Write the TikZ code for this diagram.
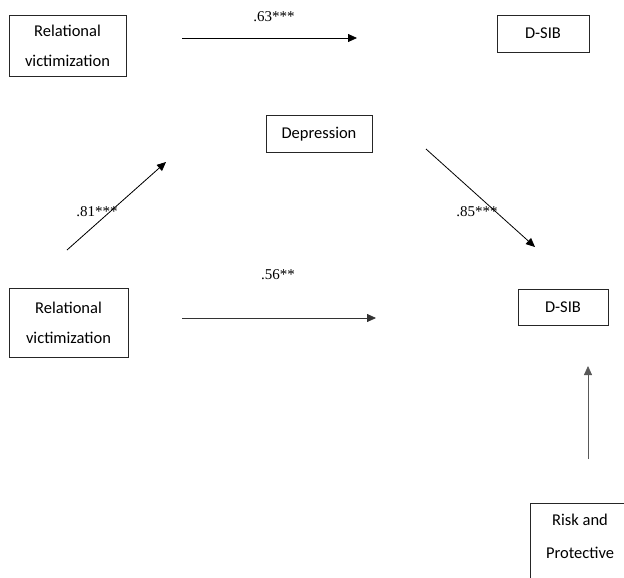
\documentclass[tikz,border=0pt]{standalone}
\usepackage{fontspec}
\setmainfont{Carlito}
\newfontfamily\labfont{Liberation Serif}
\usetikzlibrary{arrows.meta}
\begin{document}
\begin{tikzpicture}[x=1pt,y=-1pt,
  boxnode/.style={draw=black!85,line width=0.9pt,inner sep=0pt,align=center,
    font=\fontsize{16.5}{30}\selectfont},
  pathlabel/.style={inner sep=0pt,font=\labfont\fontsize{15}{15}\selectfont},
  patharrow/.style={line width=0.8pt,-{Triangle[length=9pt,width=8pt]}}]
\useasboundingbox (0,0) rectangle (624,578);
\clip (0,0) rectangle (624,578);
% nodes
\node[boxnode,minimum width=117pt,minimum height=61pt] (rv1) at (67.5,45.5) {Relational\\victimization};
\node[boxnode,minimum width=92pt,minimum height=37pt] (dsib1) at (543,33.5) {D-SIB};
\node[boxnode,minimum width=106pt,minimum height=37pt] (dep) at (319,134) {Depression};
\node[boxnode,minimum width=119pt,minimum height=69pt] (rv2) at (68.5,322.5) {Relational\\victimization};
\node[boxnode,minimum width=90pt,minimum height=36pt] (dsib2) at (563,307) {D-SIB};
\node[draw=black!85,line width=0.9pt,minimum width=98pt,minimum height=80pt,inner sep=0pt] (rp) at (579,543) {};
\node[inner sep=0pt,font=\fontsize{16.5}{30}\selectfont] (rptop) at (580,520) {Risk and};
\node[inner sep=0pt,font=\fontsize{16.5}{30}\selectfont] (rpbot) at (580,553) {Protective};
% arrow end points
\coordinate (a1s) at (182,38);
\coordinate (a1e) at (357,38);
\coordinate (a2s) at (67,250);
\coordinate (a2e) at (166,162);
\coordinate (a3s) at (426,149);
\coordinate (a3e) at (535,247);
\coordinate (a4s) at (182,318);
\coordinate (a4e) at (376,318);
\coordinate (a5s) at (588,459);
\coordinate (a5e) at (588,366);
% arrows
\draw[patharrow] (a1s) -- (a1e);
\draw[patharrow] (a2s) -- (a2e);
\draw[patharrow] (a3s) -- (a3e);
\draw[patharrow,draw=black!80,fill=black] (a4s) -- (a4e);
\draw[patharrow,draw=black!65] (a5s) -- (a5e);
% labels
\node[pathlabel] (l1) at (274,17) {.63***};
\node[pathlabel] (l2) at (97,212) {.81***};
\node[pathlabel] (l3) at (477,212) {.85***};
\node[pathlabel] (l4) at (278,275) {.56**};
\end{tikzpicture}
\end{document}
